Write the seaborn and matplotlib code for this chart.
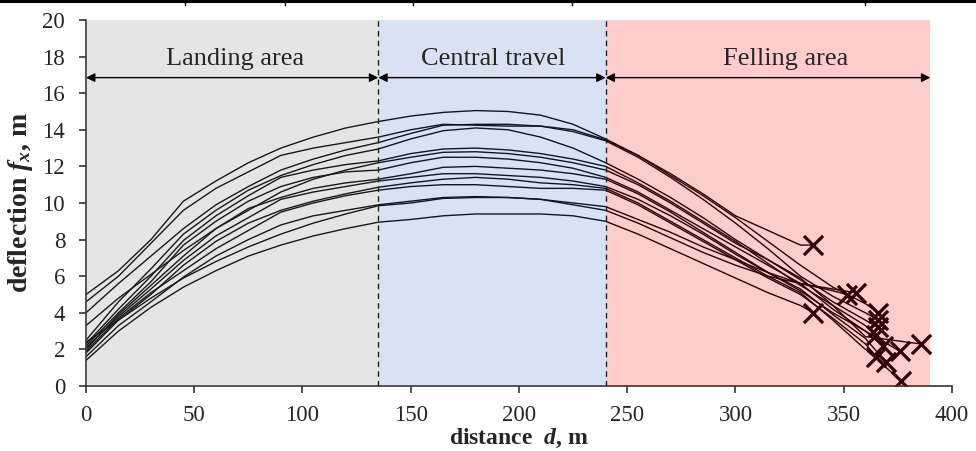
import numpy as np
import pandas as pd
import matplotlib
matplotlib.use("Agg")
import matplotlib.pyplot as plt
from matplotlib.lines import Line2D
import seaborn as sns

nan = np.nan

d_grid = [0, 15, 30, 45, 60, 75, 90, 105, 120, 135, 150, 165, 180,
          195, 210, 225, 240, 255, 270, 285, 300, 315, 330, 345, 360]

# deflection f_x (m) of each run on d_grid (nan = run already ended)
f_runs = [
    [5.0, 6.3, 8.0, 10.1, 11.2, 12.2, 13.0, 13.6, 14.1, 14.45, 14.75, 14.95, 15.05,
     15.0, 14.8, 14.3, 13.5, 12.6, 11.6, 10.5, 9.3, 8.5, 7.7, nan, nan],
    [1.4, 3.0, 4.3, 5.4, 6.3, 7.1, 7.7, 8.2, 8.6, 8.95, 9.1, 9.3, 9.4,
     9.4, 9.4, 9.3, 9.0, 8.3, 7.5, 6.7, 5.9, 5.1, 4.4, nan, nan],
    [2.4, 3.6, 4.8, 5.9, 6.8, 7.6, 8.3, 8.9, 9.4, 9.85, 10.0, 10.25, 10.3,
     10.3, 10.2, 9.9, 9.6, 8.9, 8.1, 7.3, 6.6, 6.0, 5.6, 5.2, nan],
    [1.6, 3.3, 4.6, 5.95, 7.1, 8.0, 8.8, 9.3, 9.6, 9.9, 10.1, 10.3, 10.35,
     10.3, 10.2, 10.0, 9.8, 9.1, 8.4, 7.6, 6.9, 6.2, 5.6, 5.3, nan],
    [4.6, 6.0, 7.8, 9.6, 10.8, 11.7, 12.6, 13.0, 13.3, 13.6, 14.0, 14.3, 14.25,
     14.2, 14.2, 14.0, 13.45, 12.6, 11.5, 10.4, 9.2, 7.9, 6.6, 5.4, 4.5],
    [4.0, 5.6, 7.1, 8.6, 9.9, 10.9, 11.8, 12.4, 12.9, 13.3, 13.8, 14.25, 14.3,
     14.3, 14.2, 13.9, 13.4, 12.5, 11.4, 10.2, 8.9, 7.5, 6.0, 4.9, 4.0],
    [2.5, 4.6, 6.4, 8.3, 9.6, 10.7, 11.5, 12.1, 12.6, 12.95, 13.5, 13.95, 14.1,
     14.0, 13.6, 13.0, 12.2, 11.3, 10.3, 9.2, 8.0, 6.9, 5.8, 4.6, 3.6],
    [2.3, 4.2, 6.0, 7.95, 9.3, 10.4, 11.4, 11.8, 12.1, 12.3, 12.7, 12.95, 13.0,
     12.9, 12.7, 12.4, 12.0, 11.1, 10.1, 9.0, 7.9, 6.7, 5.5, 4.4, 3.3],
    [2.0, 3.9, 5.5, 7.1, 8.6, 9.7, 10.3, 10.8, 11.1, 11.3, 11.6, 11.95, 12.0,
     11.9, 11.8, 11.6, 11.3, 10.5, 9.5, 8.4, 7.3, 6.2, 5.2, 4.0, 3.0],
    [1.9, 3.7, 5.1, 6.3, 7.5, 8.5, 9.5, 10.0, 10.4, 10.7, 10.9, 11.0, 11.0,
     10.9, 10.8, 10.8, 10.7, 9.9, 8.9, 7.9, 6.9, 5.9, 5.0, 3.7, 2.3],
    [2.2, 4.0, 5.7, 7.7, 9.0, 10.1, 10.9, 11.4, 11.7, 11.8, 12.2, 12.5, 12.5,
     12.4, 12.2, 11.9, 11.4, 10.6, 9.6, 8.6, 7.6, 6.6, 5.6, 4.2, 3.0],
    [2.1, 3.8, 5.3, 6.86, 8.2, 9.2, 10.2, 10.6, 10.9, 11.2, 11.4, 11.6, 11.6,
     11.5, 11.4, 11.2, 10.9, 10.2, 9.3, 8.3, 7.2, 6.2, 5.3, 3.9, 2.6],
    [3.3, 4.8, 6.1, 7.4, 8.6, 9.6, 10.6, 11.3, 11.8, 12.2, 12.5, 12.77, 12.8,
     12.7, 12.5, 12.2, 11.8, 11.0, 10.0, 8.9, 7.8, 6.9, 5.9, 4.4, 2.7],
    [1.8, 3.6, 5.0, 6.6, 7.9, 8.9, 9.6, 10.1, 10.5, 10.86, 11.1, 11.3, 11.4,
     11.3, 11.1, 11.0, 10.8, 10.0, 9.0, 8.0, 7.0, 6.0, 5.1, 3.6, 2.0],
]

# end of each run (cross markers)
d_end = [336.0, 336.0, 351.4, 355.7, 366.0, 366.0, 366.0, 365.0, 368.0, 365.0, 376.0, 369.5, 385.6, 376.4]
f_end = [7.7, 4.0, 5.0, 5.1, 4.0, 3.6, 3.2, 2.8, 2.2, 1.6, 1.9, 1.3, 2.3, 0.3]

# zones along the skyline
zone_names = ["Landing area", "Central travel", "Felling area"]
zone_edges = [0, 135, 240, 390]
zone_colors = ["#7f7f7f", "#4472c4", "#ff0000"]
zone_text_x = [69, 188, 323]

rows = []
for i, f in enumerate(f_runs):
    for d, v in zip(d_grid, f):
        if not np.isnan(v):
            rows.append((i, d, v))
    rows.append((i, d_end[i], f_end[i]))
df = pd.DataFrame(rows, columns=["run", "d", "f"])

sns.set_style("white")
plt.rcParams["font.family"] = ["Liberation Serif", "DejaVu Serif"]
plt.rcParams["mathtext.fontset"] = "custom"
plt.rcParams["mathtext.rm"] = "Liberation Serif:bold"
plt.rcParams["mathtext.it"] = "Liberation Serif:italic:bold"

fig = plt.figure(figsize=(9.76, 4.51), dpi=100)
ax = fig.add_axes([0.0881, 0.1441, 0.8873, 0.8116])

sns.lineplot(data=df, x="d", y="f", units="run", estimator=None, sort=False,
             color="black", lw=1.0, legend=False, ax=ax, zorder=2)
sns.scatterplot(x=d_end, y=f_end, marker="x", s=190, color="black",
                linewidth=2.3, legend=False, ax=ax, zorder=2)

for k in range(3):
    ax.axvspan(zone_edges[k], zone_edges[k + 1], ymin=0, ymax=1,
               color=zone_colors[k], alpha=0.2, lw=0, zorder=3)
    ax.annotate("", xy=(zone_edges[k], 16.85), xytext=(zone_edges[k + 1], 16.85),
                arrowprops=dict(arrowstyle="<|-|>", color="black", lw=1.0,
                                shrinkA=0, shrinkB=0, mutation_scale=13),
                zorder=4)
    ax.text(zone_text_x[k], 17.85, zone_names[k], ha="center", va="center",
            fontsize=19, zorder=4)

for x in zone_edges[1:3]:
    ax.axvline(x, color="#222222", lw=1.0, ls=(0, (4, 3)), zorder=4)

ax.set_xlim(0, 400)
ax.set_ylim(0, 20)
ax.set_xticks(range(0, 401, 50))
ax.set_yticks(range(0, 21, 2))
ax.tick_params(axis="both", direction="out", length=5, width=1.2, color="#333333",
               labelsize=16.5, bottom=True, left=True)
ax.tick_params(axis="x", pad=9)
ax.tick_params(axis="y", pad=10)
sns.despine(ax=ax)
for s in ["left", "bottom"]:
    ax.spines[s].set_color("#333333")
    ax.spines[s].set_linewidth(1.2)

ax.set_xlabel("distance  $d$, m", fontsize=17, fontweight="bold")
ax.xaxis.set_label_coords(0.5, -0.112)
ax.set_ylabel("deflection $f_x$, m", fontsize=20, fontweight="bold")
ax.yaxis.set_label_coords(-0.059, 0.5)

# table border left at the top of the crop
fig.add_artist(Line2D([0, 1], [0.997, 0.997], transform=fig.transFigure, color="black", lw=2.2))
for px in [185, 285, 413, 572, 865]:
    fig.add_artist(Line2D([px / 976, px / 976], [0.997, 0.988], transform=fig.transFigure,
                          color="black", lw=1.0))

fig.savefig("out.png", dpi=100)
